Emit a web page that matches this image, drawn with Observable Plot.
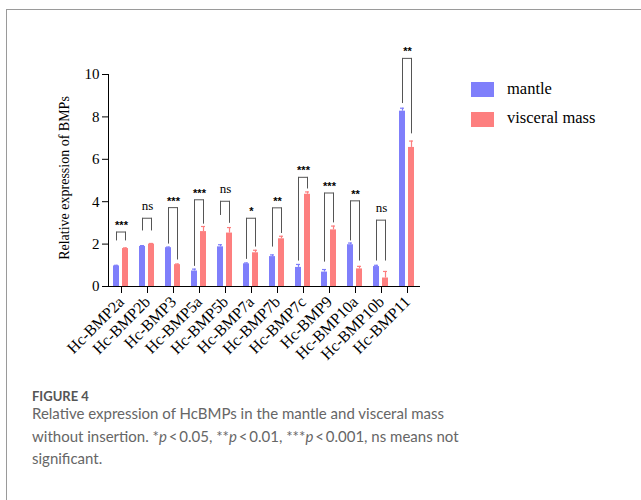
<!DOCTYPE html>
<html><head><meta charset="utf-8">
<script src="https://cdn.jsdelivr.net/npm/d3@7"></script>
<script src="https://cdn.jsdelivr.net/npm/@observablehq/plot@0.6"></script>
<style>
html,body{margin:0;padding:0;background:#fff}
body{width:641px;height:500px;overflow:hidden;position:relative;font-family:"Liberation Serif",serif}
#frame{position:absolute;left:6px;top:9px;width:700px;height:600px;border-top:1px solid #9a9a9a;border-left:1px solid #9a9a9a}
#chart{position:absolute;left:0;top:0}
#ylabel{position:absolute;left:65px;top:178px;transform:translate(-50%,-50%) rotate(-90deg);white-space:nowrap;font-family:"Liberation Serif",serif;font-weight:400;font-size:14px;color:#000;line-height:1}
.sw{position:absolute;left:471px;width:23px;height:15px}
.lt{position:absolute;left:507px;font-family:"Liberation Serif",serif;font-size:16.5px;line-height:1;white-space:nowrap;color:#000}
#fig{position:absolute;left:32px;top:390px;font-family:Lato,sans-serif;font-weight:700;font-size:13px;line-height:1;color:#555}
#cap{position:absolute;left:32px;top:402px;width:440px;font-family:Lato,sans-serif;font-size:15px;line-height:22.5px;color:#666}
#chart svg g[aria-label^="y-axis"] text{font-family:"Liberation Serif",serif !important;font-size:15px !important}
#chart svg g[aria-label^="fx-axis"] text{font-family:"Liberation Serif",serif !important;font-size:16px !important}
</style>
</head><body>
<div id="frame"></div>
<div id="chart"></div>
<div id="ylabel">Relative expression of BMPs</div>
<div id="legend"></div>
<div id="fig">FIGURE 4</div>
<div id="cap">Relative expression of HcBMPs in the mantle and visceral mass without insertion. *<i>p</i>&#8201;&lt;&#8201;0.05, **<i>p</i>&#8201;&lt;&#8201;0.01, ***<i>p</i>&#8201;&lt;&#8201;0.001, ns means not significant.</div>
<script>
const categories = ["Hc-BMP2a","Hc-BMP2b","Hc-BMP3","Hc-BMP5a","Hc-BMP5b","Hc-BMP7a","Hc-BMP7b","Hc-BMP7c","Hc-BMP9","Hc-BMP10a","Hc-BMP10b","Hc-BMP11"];
const series = ["mantle","visceral mass"];
const colors = ["#7f7ffb","#fd7f7f"];
const mantle      = [0.97,1.89,1.83,0.73,1.87,1.07,1.41,0.90,0.68,1.97,0.94,8.27];
const mantleErr   = [0.03,0.04,0.03,0.09,0.10,0.04,0.08,0.14,0.12,0.08,0.06,0.14];
const visceral    = [1.79,2.00,1.03,2.59,2.52,1.59,2.25,4.35,2.67,0.83,0.40,6.56];
const visceralErr = [0.03,0.03,0.03,0.24,0.26,0.12,0.12,0.11,0.18,0.12,0.31,0.30];
const bracketTop   = [2.57,3.22,3.72,4.09,4.02,3.22,3.71,5.15,4.41,4.04,3.13,10.76];
const bracketLeft  = [2.15,2.62,2.00,0.95,3.35,1.28,1.86,1.20,1.15,2.15,1.20,8.63];
const bracketRight = [2.15,2.62,1.25,2.94,2.98,1.86,2.50,4.60,3.00,1.20,1.20,7.20];
const sigLabels    = ["***","ns","***","***","ns","*","**","***","***","**","ns","**"];

const rows = categories.flatMap((c,i)=>[
  {cat:c, series:series[0], value:mantle[i], err:mantleErr[i]},
  {cat:c, series:series[1], value:visceral[i], err:visceralErr[i]}
]);
const brackets = categories.map((c,i)=>({cat:c, top:bracketTop[i], left:bracketLeft[i], right:bracketRight[i], label:sigLabels[i]}));

const chart = Plot.plot({
  width:440, height:380,
  marginLeft:104, marginRight:16, marginTop:74, marginBottom:94,
  style:{fontFamily:"'Liberation Serif', serif", fontSize:"16px", background:"transparent", color:"#000", overflow:"visible"},
  fx:{domain:categories, padding:0, axis:"bottom", tickRotate:-45, tickSize:7, label:null},
  x:{domain:series, axis:null, paddingInner:0.33, paddingOuter:0.5},
  y:{domain:[0,10], ticks:[0,2,4,6,8,10], tickSize:6, line:true, label:null},
  color:{domain:series, range:colors},
  marks:[
    Plot.barY(rows,{fx:"cat", x:"series", y:"value", fill:"series"}),
    Plot.ruleX(rows,{fx:"cat", x:"series", y1:"value", y2:d=>d.value+d.err, stroke:"series", strokeWidth:1.2}),
    Plot.tickY(rows,{fx:"cat", x:"series", y:d=>d.value+d.err, stroke:"series", strokeWidth:1.2, insetLeft:1, insetRight:1}),
    Plot.ruleY([0],{stroke:"#000"}),
    Plot.link(brackets,{fx:"cat", x1:()=>series[0], x2:()=>series[1], y1:"top", y2:"top", stroke:"#555"}),
    Plot.ruleX(brackets,{fx:"cat", x:()=>series[0], y1:"top", y2:"left", stroke:"#555"}),
    Plot.ruleX(brackets,{fx:"cat", x:()=>series[1], y1:"top", y2:"right", stroke:"#555"}),
    Plot.text(brackets.filter(d=>d.label!=="ns"),{fx:"cat", y:"top", text:"label", lineAnchor:"bottom", dy:-3, fontFamily:"'Liberation Sans', sans-serif", fontWeight:"bold", fontSize:11}),
    Plot.text(brackets.filter(d=>d.label==="ns"),{fx:"cat", y:"top", text:"label", lineAnchor:"bottom", dy:-8, fontSize:13})
  ]
});
document.getElementById("chart").appendChild(chart);

const legend = document.getElementById("legend");
const swTops = [82,112], txTops = [81.2,110.2];
series.forEach((s,i)=>{
  const sw = document.createElement("div"); sw.className="sw"; sw.style.top=swTops[i]+"px"; sw.style.background=colors[i];
  const t = document.createElement("div"); t.className="lt"; t.style.top=txTops[i]+"px"; t.textContent=s;
  legend.appendChild(sw); legend.appendChild(t);
});
</script>
</body></html>
